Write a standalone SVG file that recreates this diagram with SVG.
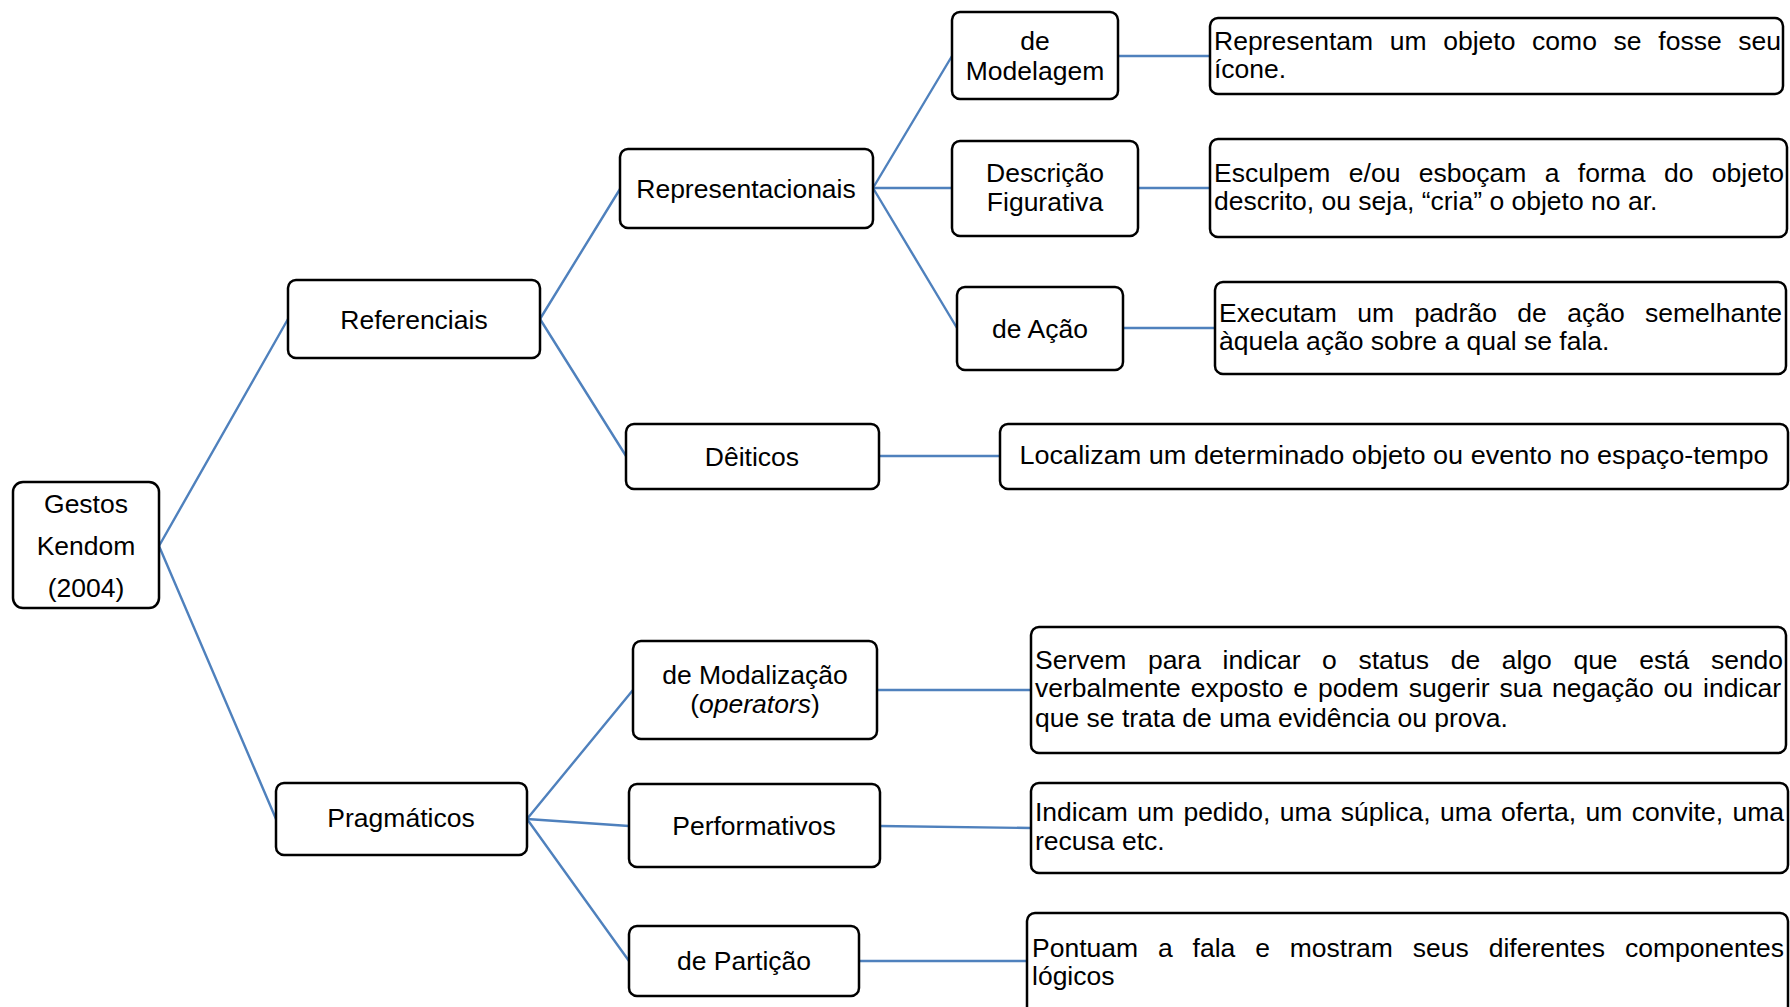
<svg xmlns="http://www.w3.org/2000/svg" width="1790" height="1007" viewBox="0 0 1790 1007">
  <style>
    .box { fill: #ffffff; stroke: #000000; stroke-width: 2.5; }
    .link { stroke: #4f81bd; stroke-width: 2.4; fill: none; stroke-linecap: round; }
    text { font-family: "Liberation Sans", Arial, sans-serif; font-size: 26.5px; fill: #000000; }
    .c { text-anchor: middle; }
    .it { font-style: italic; }
  </style>
  <rect width="1790" height="1007" fill="#ffffff"/>

  <!-- connectors -->
  <g id="connectors">
    <line class="link" x1="159" y1="546" x2="288" y2="319"/>
    <line class="link" x1="159" y1="546" x2="276" y2="819"/>
    <line class="link" x1="540" y1="319" x2="620" y2="189"/>
    <line class="link" x1="540" y1="319" x2="626" y2="456"/>
    <line class="link" x1="873" y1="188" x2="952" y2="56"/>
    <line class="link" x1="873" y1="188" x2="952" y2="188"/>
    <line class="link" x1="873" y1="188" x2="957" y2="328"/>
    <line class="link" x1="1118" y1="56" x2="1210" y2="56"/>
    <line class="link" x1="1138" y1="188" x2="1210" y2="188"/>
    <line class="link" x1="1123" y1="328" x2="1215" y2="328"/>
    <line class="link" x1="879" y1="456" x2="1000" y2="456"/>
    <line class="link" x1="527" y1="819" x2="633" y2="690"/>
    <line class="link" x1="527" y1="819" x2="629" y2="826"/>
    <line class="link" x1="527" y1="819" x2="629" y2="961"/>
    <line class="link" x1="877" y1="690" x2="1031" y2="690"/>
    <line class="link" x1="880" y1="826" x2="1031" y2="828"/>
    <line class="link" x1="859" y1="961" x2="1027" y2="961"/>
  </g>

  <!-- root -->
  <g id="gestos-kendom">
    <rect class="box" x="13" y="482" width="146" height="126" rx="10"/>
    <text class="c" x="86" y="513">Gestos</text>
    <text class="c" x="86" y="555">Kendom</text>
    <text class="c" x="86" y="597">(2004)</text>
  </g>

  <!-- second level -->
  <g id="referenciais">
    <rect class="box" x="288" y="280" width="252" height="78" rx="8"/>
    <text class="c" x="414" y="329">Referenciais</text>
  </g>
  <g id="pragmaticos">
    <rect class="box" x="276" y="783" width="251" height="72" rx="8"/>
    <text class="c" x="401" y="827">Pragmáticos</text>
  </g>

  <!-- third level -->
  <g id="representacionais">
    <rect class="box" x="620" y="149" width="253" height="79" rx="8"/>
    <text class="c" x="746" y="198">Representacionais</text>
  </g>
  <g id="deiticos">
    <rect class="box" x="626" y="424" width="253" height="65" rx="8"/>
    <text class="c" x="752" y="466">Dêiticos</text>
  </g>
  <g id="modalizacao">
    <rect class="box" x="633" y="641" width="244" height="98" rx="8"/>
    <text class="c" x="755" y="684">de Modalização</text>
    <text class="c" x="755" y="713">(<tspan class="it">operators</tspan>)</text>
  </g>
  <g id="performativos">
    <rect class="box" x="629" y="784" width="251" height="83" rx="8"/>
    <text class="c" x="754" y="835">Performativos</text>
  </g>
  <g id="particao">
    <rect class="box" x="629" y="926" width="230" height="70" rx="8"/>
    <text class="c" x="744" y="970">de Partição</text>
  </g>

  <!-- fourth level -->
  <g id="modelagem">
    <rect class="box" x="952" y="12" width="166" height="87" rx="8"/>
    <text class="c" x="1035" y="50">de</text>
    <text class="c" x="1035" y="80">Modelagem</text>
  </g>
  <g id="descricao-figurativa">
    <rect class="box" x="952" y="141" width="186" height="95" rx="8"/>
    <text class="c" x="1045" y="182">Descrição</text>
    <text class="c" x="1045" y="211">Figurativa</text>
  </g>
  <g id="acao">
    <rect class="box" x="957" y="287" width="166" height="83" rx="8"/>
    <text class="c" x="1040" y="338">de Ação</text>
  </g>

  <!-- descriptions (justified lines are set word by word) -->
  <g id="desc-modelagem">
    <rect class="box" x="1210" y="18" width="573" height="76" rx="8"/>
    <text y="50"><tspan x="1214">Representam</tspan><tspan x="1389.7">um</tspan><tspan x="1443.2">objeto</tspan><tspan x="1532.1">como</tspan><tspan x="1613.6">se</tspan><tspan x="1658.3">fosse</tspan><tspan x="1738.3">seu</tspan></text>
    <text x="1214" y="78">ícone.</text>
  </g>
  <g id="desc-descricao">
    <rect class="box" x="1210" y="139" width="577" height="98" rx="8"/>
    <text y="182"><tspan x="1214">Esculpem</tspan><tspan x="1348.8">e/ou</tspan><tspan x="1418.7">esboçam</tspan><tspan x="1544.7">a</tspan><tspan x="1577.8">forma</tspan><tspan x="1663.9">do</tspan><tspan x="1711.8">objeto</tspan></text>
    <text x="1214" y="210">descrito, ou seja, “cria” o objeto no ar.</text>
  </g>
  <g id="desc-acao">
    <rect class="box" x="1215" y="282" width="571" height="92" rx="8"/>
    <text y="322"><tspan x="1219">Executam</tspan><tspan x="1357.2">um</tspan><tspan x="1414.4">padrão</tspan><tspan x="1517.3">de</tspan><tspan x="1567.2">ação</tspan><tspan x="1645">semelhante</tspan></text>
    <text x="1219" y="350">àquela ação sobre a qual se fala.</text>
  </g>
  <g id="desc-deiticos">
    <rect class="box" x="1000" y="424" width="788" height="65" rx="8"/>
    <text class="c" x="1394" y="464" textLength="749" lengthAdjust="spacingAndGlyphs">Localizam um determinado objeto ou evento no espaço-tempo</text>
  </g>
  <g id="desc-modalizacao">
    <rect class="box" x="1031" y="627" width="755" height="126" rx="8"/>
    <text y="669"><tspan x="1035">Servem</tspan><tspan x="1147.9">para</tspan><tspan x="1222.5">indicar</tspan><tspan x="1322.1">o</tspan><tspan x="1358.4">status</tspan><tspan x="1450.7">de</tspan><tspan x="1501.7">algo</tspan><tspan x="1573.4">que</tspan><tspan x="1639.2">está</tspan><tspan x="1710.9">sendo</tspan></text>
    <text y="697"><tspan x="1035">verbalmente</tspan><tspan x="1190.7">exposto</tspan><tspan x="1293.3">e</tspan><tspan x="1317.9">podem</tspan><tspan x="1408.7">sugerir</tspan><tspan x="1499.6">sua</tspan><tspan x="1552.1">negação</tspan><tspan x="1663.6">ou</tspan><tspan x="1703">indicar</tspan></text>
    <text x="1035" y="727">que se trata de uma evidência ou prova.</text>
  </g>
  <g id="desc-performativos">
    <rect class="box" x="1031" y="783" width="757" height="90" rx="8"/>
    <text y="821"><tspan x="1035">Indicam</tspan><tspan x="1137.2">um</tspan><tspan x="1183.4">pedido,</tspan><tspan x="1279.8">uma</tspan><tspan x="1340.7">súplica,</tspan><tspan x="1440">uma</tspan><tspan x="1501">oferta,</tspan><tspan x="1585.5">um</tspan><tspan x="1631.7">convite,</tspan><tspan x="1732.5">uma</tspan></text>
    <text x="1035" y="850">recusa etc.</text>
  </g>
  <g id="desc-particao">
    <rect class="box" x="1027" y="913" width="761" height="110" rx="8"/>
    <text y="957"><tspan x="1032">Pontuam</tspan><tspan x="1158">a</tspan><tspan x="1192.6">fala</tspan><tspan x="1255.2">e</tspan><tspan x="1289.8">mostram</tspan><tspan x="1412.8">seus</tspan><tspan x="1488.7">diferentes</tspan><tspan x="1624.9">componentes</tspan></text>
    <text x="1032" y="985">lógicos</text>
  </g>
</svg>
